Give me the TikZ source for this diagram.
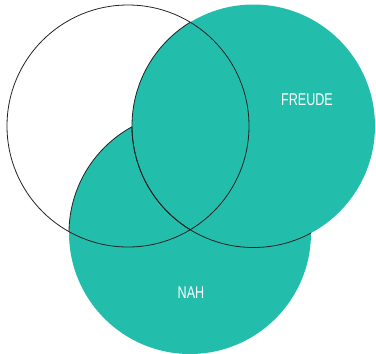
\documentclass[tikz,border=0pt]{standalone}
\usepackage{fontspec}
\newfontfamily\lblfont[FakeStretch=0.74]{Liberation Sans}
\definecolor{teal1}{RGB}{35,189,172}
\definecolor{edge}{RGB}{34,34,34}
\begin{document}
\begin{tikzpicture}[x=1pt,y=-1pt,
  outline/.style={draw=edge,line width=0.8pt},
  blob/.style={fill=teal1},
  lbl/.style={text=white,font=\lblfont\fontsize{17}{17}\selectfont,anchor=base,inner sep=0pt}]
\useasboundingbox (0,0) rectangle (376,354);
\coordinate (cl) at (128,126);
\coordinate (cr) at (253.5,126);
\coordinate (cb) at (190,233);
% bottom circle
\fill[blob] (cb) circle (121);
\begin{scope}
  \clip (cl) circle (121);
  \draw[outline] (cb) circle (121);
\end{scope}
% right circle
\fill[blob] (cr) circle (121.5);
\begin{scope}
  \clip (cl) circle (121);
  \draw[outline] (cr) circle (121.5);
\end{scope}
\begin{scope}
  \clip (cb) circle (121);
  \draw[outline] (cr) circle (121.5);
\end{scope}
% left circle
\draw[outline] (cl) circle (121);
\node[lbl] (freude) at (307,105) {FREUDE};
\node[lbl] (nah) at (191,298) {NAH};
\end{tikzpicture}
\end{document}
